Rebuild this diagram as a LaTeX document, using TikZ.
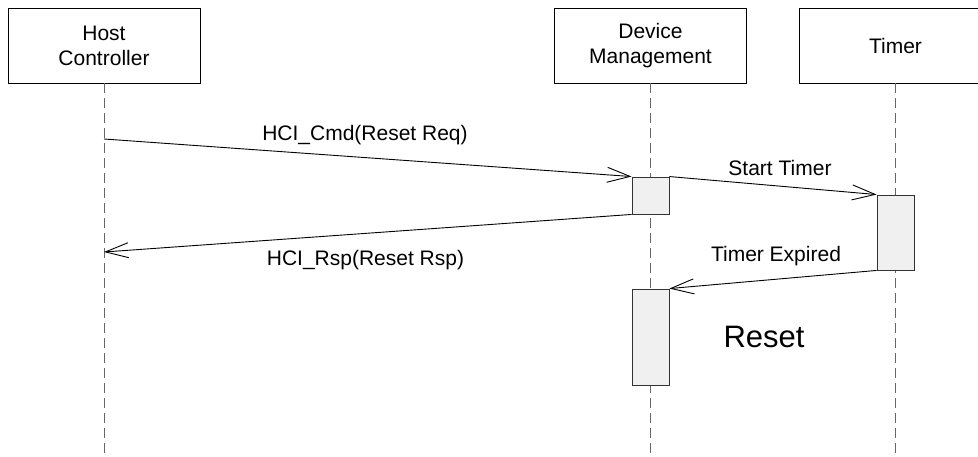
\documentclass[tikz,border=0pt]{standalone}
\usepackage{fontspec}
\setmainfont{Liberation Sans}
\usetikzlibrary{arrows.meta}
\begin{document}
\begin{tikzpicture}[x=1pt,y=-1pt,
  head/.style={draw=black, line width=0.9pt, minimum width=192pt, minimum height=75pt, inner sep=0pt, align=center, font=\fontsize{21}{25}\selectfont},
  act/.style={draw=black!80, fill=black!6, line width=0.9pt, minimum width=37pt, inner sep=0pt},
  life/.style={draw=black!60, line width=0.9pt, dash pattern=on 10pt off 5pt},
  msg/.style={draw=black, line width=0.9pt, -{Straight Barb[length=23pt,width=15pt]}},
  lbl/.style={anchor=base, inner sep=0pt, font=\fontsize{21}{25}\selectfont}]
\useasboundingbox (0,0) rectangle (978,457);
\clip (0,0) rectangle (978,457);
\fill[white] (0,0) rectangle (978,457);
% heads
\node[head] (host) at (104,45.5) {Host\\Controller};
\node[head] (dev) at (650.5,45.5) {Device\\Management};
\node[head] (tim) at (895.5,45.5) {Timer};
% lifeline ends
\coordinate (hostend) at (104,460);
\coordinate (devend) at (650.5,460);
\coordinate (timend) at (895.5,460);
\draw[life] (host.south) -- (hostend);
\draw[life] (dev.south) -- (devend);
\draw[life] (tim.south) -- (timend);
% activations
\node[act, minimum height=37pt] (a1) at (650.5,195.5) {};
\node[act, minimum height=75pt] (t1) at (895.5,232.5) {};
\node[act, minimum height=96pt] (a2) at (650.5,337) {};
% lifeline points
\coordinate (h1) at (104,139);
\coordinate (h2) at (104,252);
% messages
\draw[msg] (h1) -- (a1.north west);
\draw[msg] (a1.south west) -- (h2);
\draw[msg] (a1.north east) -- (t1.north west);
\draw[msg] (t1.south west) -- (a2.north east);
% labels
\node[lbl] (l1) at (365,141) {HCI\_Cmd(Reset Req)};
\node[lbl] (l2) at (365.5,266) {HCI\_Rsp(Reset Rsp)};
\node[lbl] (l3) at (780,176) {Start Timer};
\node[lbl] (l4) at (776,262) {Timer Expired};
\node[lbl, font=\fontsize{31}{36}\selectfont] (l5) at (764,348) {Reset};
\end{tikzpicture}
\end{document}
